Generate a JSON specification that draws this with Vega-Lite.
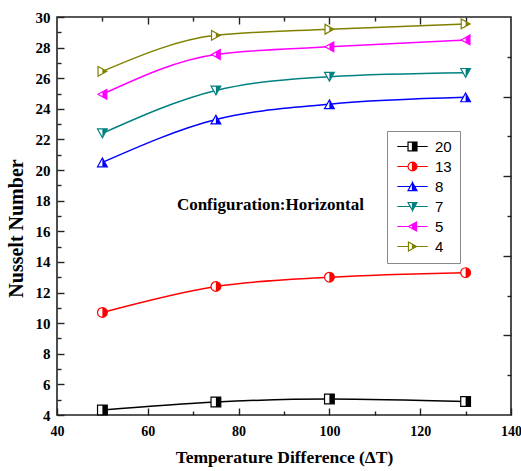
{
  "$schema": "https://vega.github.io/schema/vega-lite/v6.json",
  "width": 454,
  "height": 398,
  "autosize": {"type": "none"},
  "padding": {"left": 57, "top": 17, "right": 10, "bottom": 56},
  "background": "white",
  "config": {
    "view": {"stroke": "#222", "strokeWidth": 1.6},
    "axis": {"domain": false, "grid": false, "ticks": true, "tickColor": "#222", "tickWidth": 1.4}
  },
  "data": {
    "values": [
      {"series": "20", "dT": 50, "Nu": 4.33},
      {"series": "20", "dT": 75, "Nu": 4.85},
      {"series": "20", "dT": 100, "Nu": 5.05},
      {"series": "20", "dT": 130, "Nu": 4.88},
      {"series": "13", "dT": 50, "Nu": 10.7},
      {"series": "13", "dT": 75, "Nu": 12.4},
      {"series": "13", "dT": 100, "Nu": 13.0},
      {"series": "13", "dT": 130, "Nu": 13.3},
      {"series": "8", "dT": 50, "Nu": 20.5},
      {"series": "8", "dT": 75, "Nu": 23.3},
      {"series": "8", "dT": 100, "Nu": 24.3},
      {"series": "8", "dT": 130, "Nu": 24.75},
      {"series": "7", "dT": 50, "Nu": 22.4},
      {"series": "7", "dT": 75, "Nu": 25.2},
      {"series": "7", "dT": 100, "Nu": 26.1},
      {"series": "7", "dT": 130, "Nu": 26.35},
      {"series": "5", "dT": 50, "Nu": 24.95},
      {"series": "5", "dT": 75, "Nu": 27.55},
      {"series": "5", "dT": 100, "Nu": 28.05},
      {"series": "5", "dT": 130, "Nu": 28.5},
      {"series": "4", "dT": 50, "Nu": 26.45},
      {"series": "4", "dT": 75, "Nu": 28.8},
      {"series": "4", "dT": 100, "Nu": 29.2},
      {"series": "4", "dT": 130, "Nu": 29.55}
    ]
  },
  "resolve": {
    "axis": {"x": "independent", "y": "independent"},
    "scale": {"shape": "independent"}
  },
  "layer": [
    {
      "mark": {"type": "line", "interpolate": "monotone", "strokeWidth": 1.5},
      "encoding": {
        "x": {
          "field": "dT", "type": "quantitative",
          "scale": {"domain": [40, 140], "nice": false, "zero": false},
          "axis": {
            "orient": "bottom",
            "values": [40, 60, 80, 100, 120, 140],
            "labelFont": "Liberation Serif", "labelFontWeight": "bold", "labelFontSize": 14, "labelColor": "black",
            "labelPadding": 16, "labelFlush": false,
            "tickSize": -7,
            "title": "Temperature Difference (ΔT)",
            "titleFont": "Liberation Serif", "titleFontWeight": "bold", "titleFontSize": 17.5, "titleColor": "black",
            "titlePadding": 10
          }
        },
        "y": {
          "field": "Nu", "type": "quantitative",
          "scale": {"domain": [4, 30], "nice": false, "zero": false},
          "axis": {
            "orient": "left",
            "values": [4, 6, 8, 10, 12, 14, 16, 18, 20, 22, 24, 26, 28, 30],
            "labelFont": "Liberation Serif", "labelFontWeight": "bold", "labelFontSize": 15, "labelColor": "black",
            "labelPadding": 14, "labelFlush": false,
            "tickSize": -7,
            "title": "Nusselt Number",
            "titleFont": "Liberation Serif", "titleFontWeight": "bold", "titleFontSize": 20, "titleColor": "black",
            "titlePadding": 9, "titleY": 211
          }
        },
        "color": {
          "field": "series", "type": "nominal",
          "scale": {"domain": ["20", "13", "8", "7", "5", "4"], "range": ["#000000", "#ff0000", "#0000ff", "#008080", "#ff00ff", "#808000"]},
          "legend": {
            "orient": "none", "legendX": 330, "legendY": 114,
            "title": null,
            "symbolSize": 80,
            "symbolOffset": 10,
            "labelOffset": 15,
            "labelFont": "Liberation Sans", "labelFontSize": 15, "labelColor": "black",
            "strokeColor": "#888", "fillColor": "white", "padding": 8, "rowPadding": 4,
            "encode": {
              "symbols": {
                "update": {
                  "shape": {"signal": "datum.value === '20' ? 'M-3.4,0L-1,0M1,0L3.4,0M0,-1L-1,-1L-1,1L0,1L-1,1L-1,-1ZM0,-1L1,-1L1,1L0,1Z' : datum.value === '13' ? 'M-3.4,0L-1,0M1,0L3.4,0M0,-1A1,1,0,0,0,0,1A1,1,0,0,1,0,-1ZM0,-1A1,1,0,0,1,0,1Z' : datum.value === '8' ? 'M-3.4,0L-0.5,0M0.5,0L3.4,0M0,-0.9L-1,0.9L0,0.9L-1,0.9ZM0,-0.9L1,0.9L0,0.9Z' : datum.value === '7' ? 'M-3.4,0L-0.5,0M0.5,0L3.4,0M0,0.9L-1,-0.9L0,-0.9L-1,-0.9ZM0,0.9L1,-0.9L0,-0.9Z' : datum.value === '5' ? 'M-3.4,0L-0.9,0M0.9,0L3.4,0M0,-0.5L-0.9,0L0,0.5L-0.9,0ZM0,-0.5L0.9,-1L0.9,1L0,0.5Z' : 'M-3.4,0L-0.9,0M0.9,0L3.4,0M0,-0.5L-0.9,-1L-0.9,1L0,0.5L-0.9,1L-0.9,-1ZM0,-0.5L0.9,0L0,0.5Z'"},
                  "fill": {"scale": "color", "field": "value"},
                  "stroke": {"scale": "color", "field": "value"},
                  "strokeWidth": {"value": 1.2},
                  "opacity": {"value": 1},
                  "size": {"value": 80}
                }
              }
            }
          }
        }
      }
    },
    {
      "mark": {"type": "point", "filled": false, "fill": "white", "fillOpacity": 1, "opacity": 1, "size": 95, "strokeWidth": 1.2},
      "encoding": {
        "x": {
          "field": "dT", "type": "quantitative",
          "axis": {"orient": "top", "values": [60, 80, 100, 120], "labels": false, "title": null, "tickSize": -7}
        },
        "y": {
          "field": "Nu", "type": "quantitative",
          "axis": {"orient": "right", "values": [9.2, 14.4, 19.6, 24.8], "labels": false, "title": null, "tickSize": -8}
        },
        "color": {"field": "series", "type": "nominal"},
        "shape": {
          "field": "series", "type": "nominal",
          "scale": {
            "domain": ["20", "13", "8", "7", "5", "4"],
            "range": ["M-1,-1L1,-1L1,1L-1,1Z", "M-1,0A1,1,0,1,1,1,0A1,1,0,1,1,-1,0Z", "M0,-0.9L1,0.9L-1,0.9Z", "M0,0.9L1,-0.9L-1,-0.9Z", "M-0.9,0L0.9,-1L0.9,1Z", "M0.9,0L-0.9,-1L-0.9,1Z"]
          },
          "legend": null
        }
      }
    },
    {
      "mark": {"type": "point", "filled": true, "opacity": 1, "size": 95, "strokeWidth": 0},
      "encoding": {
        "x": {
          "field": "dT", "type": "quantitative",
          "axis": {"orient": "bottom", "values": [50, 70, 90, 110, 130], "labels": false, "title": null, "tickSize": -4}
        },
        "y": {
          "field": "Nu", "type": "quantitative",
          "axis": {"orient": "left", "values": [5, 7, 9, 11, 13, 15, 17, 19, 21, 23, 25, 27, 29], "labels": false, "title": null, "tickSize": -4}
        },
        "color": {"field": "series", "type": "nominal"},
        "shape": {
          "field": "series", "type": "nominal",
          "scale": {
            "domain": ["20", "13", "8", "7", "5", "4"],
            "range": ["M0,-1L1,-1L1,1L0,1Z", "M0,-1A1,1,0,0,1,0,1Z", "M0,-0.9L1,0.9L0,0.9Z", "M0,0.9L1,-0.9L0,-0.9Z", "M0,-0.5L0.9,-1L0.9,1L0,0.5Z", "M0,-0.5L0.9,0L0,0.5Z"]
          },
          "legend": null
        }
      }
    },
    {
      "data": {"values": [{"label": "Configuration:Horizontal"}]},
      "mark": {"type": "text", "font": "Liberation Serif", "fontWeight": "bold", "fontSize": 17, "color": "black", "align": "center", "baseline": "middle"},
      "encoding": {
        "x": {
          "datum": 87, "type": "quantitative",
          "axis": {"orient": "top", "values": [50, 70, 90, 110, 130], "labels": false, "title": null, "tickSize": -4}
        },
        "y": {
          "datum": 17.7, "type": "quantitative",
          "axis": {"orient": "right", "values": [6.6, 11.8, 17, 22.2, 27.4], "labels": false, "title": null, "tickSize": -4}
        },
        "text": {"field": "label"}
      }
    }
  ]
}
